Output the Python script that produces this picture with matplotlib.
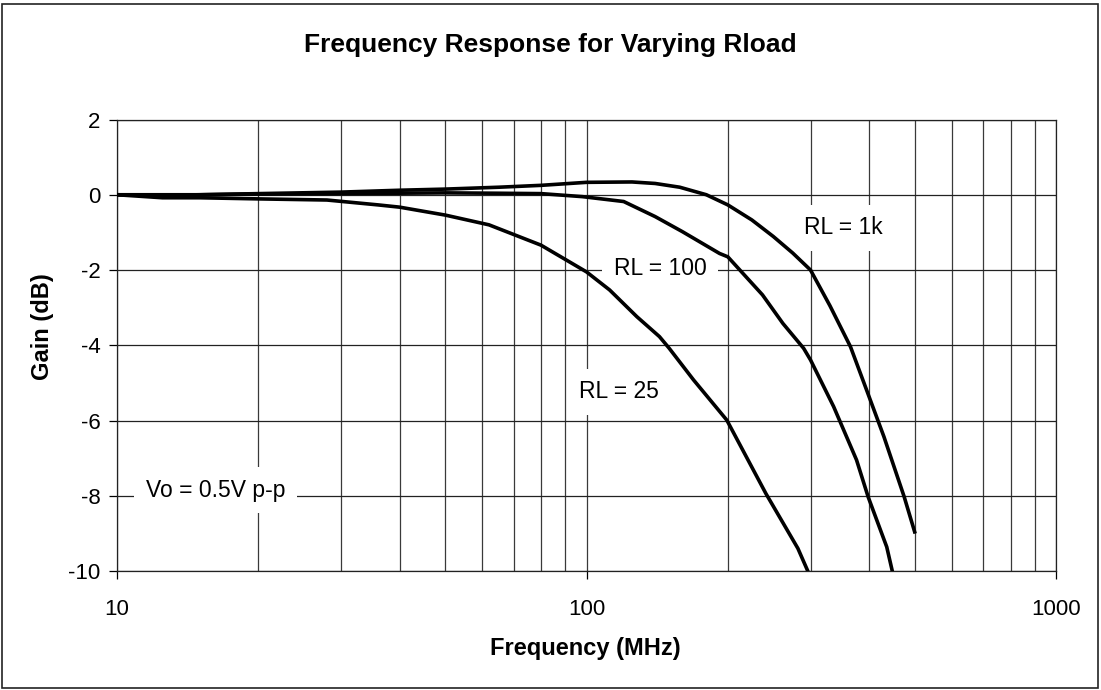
import matplotlib
matplotlib.use("Agg")
import matplotlib.pyplot as plt
from matplotlib.patches import Rectangle
from matplotlib.ticker import FixedLocator, NullFormatter

plt.rcParams['font.family'] = ['Liberation Sans', 'DejaVu Sans']

title = "Frequency Response for Varying Rload"
xlabel = "Frequency (MHz)"
ylabel = "Gain (dB)"

freq_1k = [10, 12, 15, 20, 30, 40, 50, 65, 80, 100, 125, 140, 158, 180, 200, 225, 250, 275, 300, 330, 365, 395, 430, 475, 500]
gain_1k = [0, 0, 0, 0.03, 0.07, 0.12, 0.15, 0.2, 0.25, 0.33, 0.34, 0.3, 0.2, 0.0, -0.27, -0.67, -1.11, -1.55, -2.0, -2.95, -4.04, -5.19, -6.43, -8.03, -8.96]

freq_100 = [10, 12, 15, 20, 30, 50, 65, 80, 98, 120, 140, 160, 192, 200, 237, 262, 290, 300, 336, 376, 398, 436, 448]
gain_100 = [0, -0.02, 0, 0.02, 0.03, 0.05, 0.04, 0.03, -0.05, -0.18, -0.58, -0.98, -1.56, -1.65, -2.66, -3.42, -4.08, -4.39, -5.63, -7.05, -8.03, -9.36, -10]

freq_25 = [10, 12.5, 15, 20, 28, 36, 40, 50, 62, 80, 100, 112, 128, 143, 150, 169, 199, 241, 282, 296]
gain_25 = [0, -0.08, -0.08, -0.11, -0.14, -0.27, -0.33, -0.54, -0.80, -1.34, -2.05, -2.53, -3.24, -3.77, -4.08, -4.92, -5.99, -7.94, -9.4, -10]

series_labels = ["RL = 1k", "RL = 100", "RL = 25"]
note = "Vo = 0.5V p-p"

x_ticks = [10, 100, 1000]
y_ticks = [2, 0, -2, -4, -6, -8, -10]

W, H = 1101, 690
fig = plt.figure(figsize=(W / 100, H / 100), dpi=100)
fig.patch.set_facecolor('white')
fig.add_artist(Rectangle((2 / W, 2 / H), (W - 5) / W, (H - 6) / H, transform=fig.transFigure,
                         fill=False, edgecolor='#222222', linewidth=1.2))

ax = fig.add_axes([117 / W, (H - 571) / H, (1056 - 117) / W, (571 - 119.5) / H])
ax.set_xscale('log')
ax.set_xlim(10, 1000)
ax.set_ylim(-10, 2)

minor = [m * d for d in (10, 100) for m in range(2, 10)]
ax.xaxis.set_major_locator(FixedLocator(x_ticks))
ax.xaxis.set_minor_locator(FixedLocator(minor))
ax.xaxis.set_minor_formatter(NullFormatter())
ax.set_xticks(x_ticks)
ax.set_xticklabels([str(v) for v in x_ticks])
ax.set_yticks(y_ticks)
ax.set_yticklabels([str(v) for v in y_ticks])

ax.grid(True, which='both', axis='x', color='#3a3a3a', linewidth=0.9)
ax.grid(True, which='major', axis='y', color='#222222', linewidth=0.9)
ax.tick_params(axis='both', which='major', direction='out', length=6, width=0.9,
               labelsize=16, pad=6, colors='black')
ax.tick_params(axis='x', which='minor', length=0)
ax.tick_params(axis='x', which='major', pad=14)
for s in ax.spines.values():
    s.set_color('#222222')
    s.set_linewidth(0.9)

for f, g in ((freq_1k, gain_1k), (freq_100, gain_100), (freq_25, gain_25)):
    ax.plot(f, g, color='black', linewidth=2.6, solid_joinstyle='round', zorder=5)

box = dict(boxstyle='square,pad=0.5', facecolor='white', edgecolor='none')
ax.text(353, -0.88, series_labels[0], fontsize=16.5, ha='center', va='center', bbox=box, zorder=4)
ax.text(143.4, -1.97, series_labels[1], fontsize=16.5, ha='center', va='center', bbox=box, zorder=4)
ax.text(117, -5.24, series_labels[2], fontsize=16.5, ha='center', va='center', bbox=box, zorder=4)
ax.text(16.2, -7.85, note, fontsize=16.5, ha='center', va='center', bbox=box, zorder=4)

fig.text(550 / W, 1 - 45 / H, title, fontsize=19, fontweight='bold', ha='center', va='center')
fig.text(585 / W, 1 - 648 / H, xlabel, fontsize=17, fontweight='bold', ha='center', va='center')
fig.text(42 / W, 1 - 327 / H, ylabel, fontsize=17, fontweight='bold', ha='center', va='center', rotation=90)

fig.savefig('out.png', dpi=100, facecolor='white')
